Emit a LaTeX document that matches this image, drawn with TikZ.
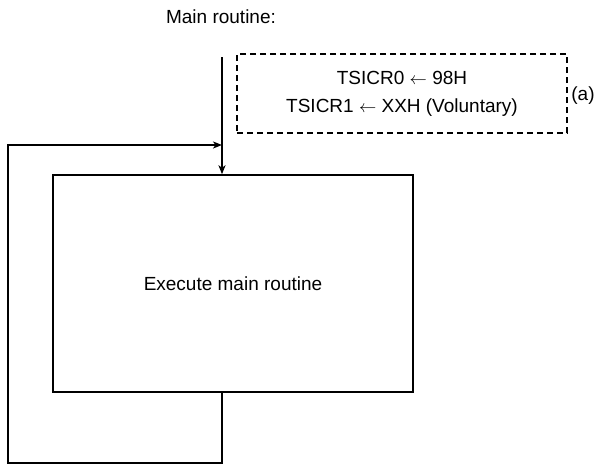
\documentclass[tikz,border=0pt]{standalone}
\usepackage{fontspec}
\setmainfont{Liberation Sans}
\usetikzlibrary{arrows.meta, calc}

\begin{document}
\begin{tikzpicture}[x=1pt, y=-1pt, >={Stealth[length=9pt,width=7pt,inset=2.5pt]}, line width=1.5pt,
    every node/.style={font=\fontsize{19}{28}\selectfont},
    routinebox/.style={draw, minimum width=360pt, minimum height=217pt, inner sep=0pt},
    notebox/.style={draw, dashed, dash pattern=on 6pt off 4pt, minimum width=330pt, minimum height=79pt, align=center, inner sep=0pt}]
      \useasboundingbox (0, 0) rectangle (598, 467);

      % Nodes
      \node (title) at (221, 17)   {Main routine:};
      \node[routinebox] (main) at (233, 283.5) {Execute main routine};
      \node[notebox] (init) at (402, 93.5) {TSICR0 $\leftarrow$ 98H\\TSICR1 $\leftarrow$ XXH (Voluntary)};
      \node (mark) at (583, 96) {(a)};

      \coordinate (top) at (222, 57);
      \coordinate (loop) at (8, 463);
      \coordinate (merge) at (222, 145);

      % Edges
      \draw[->] (top) -- (top |- main.north);
      \draw[->] (main.south -| top) |- (loop) |- (merge);
    \end{tikzpicture}
\end{document}
